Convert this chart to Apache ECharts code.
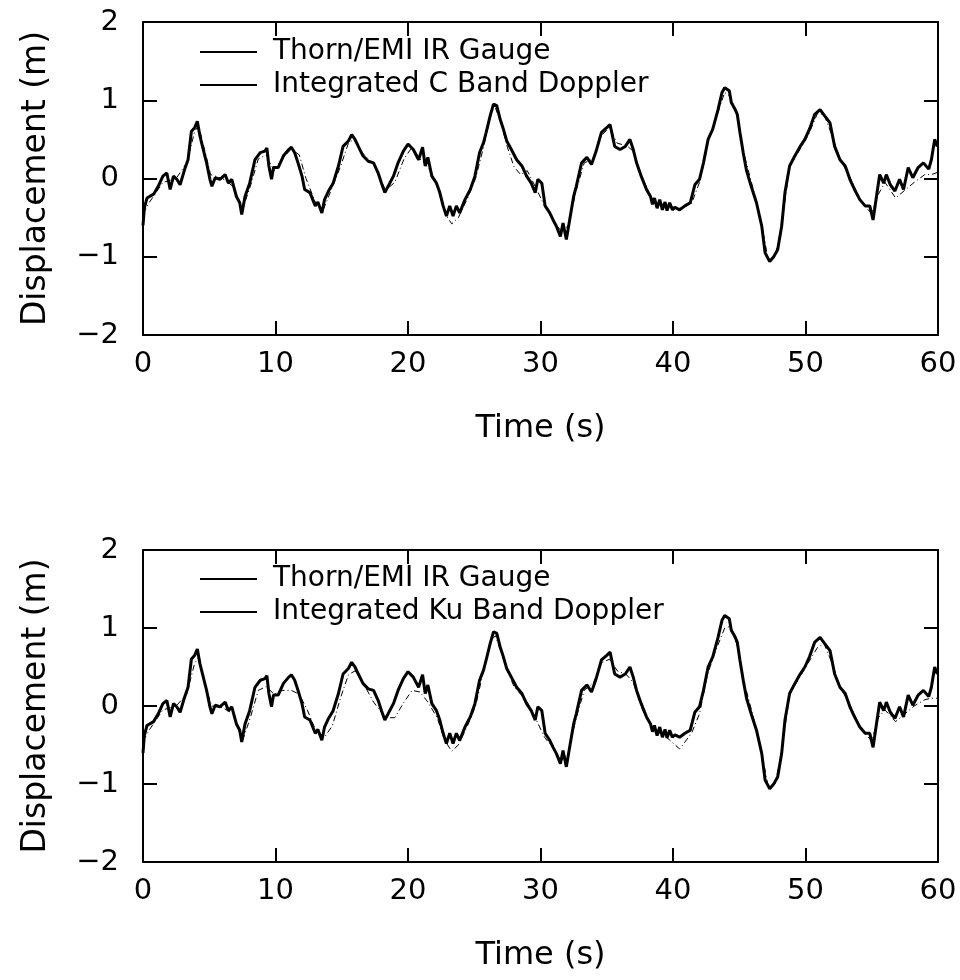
<!DOCTYPE html>
<html>
<head>
<meta charset="utf-8">
<script src="https://cdn.jsdelivr.net/npm/echarts@6/dist/echarts.min.js"></script>
<style>html,body{margin:0;padding:0;background:#fff;}#chart{width:960px;height:980px;}</style>
</head>
<body>
<div id="chart"></div>
<script>
// ---- data ----
var xTicks = [0, 10, 20, 30, 40, 50, 60];
var yTicks = [-2, -1, 0, 1, 2];

// Thorn/EMI IR Gauge (same record in both panels)
var gaugeT = [0,0.1,0.3,0.8,1.15,1.5,1.8,2.05,2.3,2.55,2.8,3.15,3.4,3.65,3.9,4.1,4.3,4.55,4.8,5.05,5.2,5.45,5.8,6.2,6.45,6.7,7.05,7.3,7.45,7.7,8.05,8.45,8.85,9.2,9.35,9.5,9.7,9.85,10.2,10.6,11.0,11.2,11.45,11.7,12.0,12.2,12.6,13.0,13.2,13.5,13.7,14.0,14.35,14.75,15.1,15.5,15.75,16.0,16.25,16.6,17.0,17.4,17.75,18.0,18.25,18.5,18.9,19.25,19.65,20.0,20.4,20.8,21.1,21.3,21.5,21.8,22.15,22.4,22.65,22.9,23.15,23.4,23.65,23.9,24.3,24.7,25.05,25.4,25.7,25.9,26.2,26.45,26.7,26.95,27.2,27.45,27.8,28.2,28.6,28.95,29.3,29.6,29.8,30.1,30.35,30.7,30.95,31.2,31.5,31.7,31.95,32.2,32.5,32.7,33.1,33.5,33.85,34.2,34.6,35.0,35.25,35.6,36.0,36.4,36.75,37.0,37.25,37.6,38.0,38.3,38.45,38.6,38.8,39.0,39.2,39.4,39.55,39.75,39.95,40.15,40.5,40.9,41.3,41.65,42.0,42.3,42.65,43.0,43.4,43.7,43.9,44.25,44.4,44.7,44.85,45.05,45.3,45.55,45.9,46.3,46.7,46.95,47.3,47.6,47.9,48.2,48.45,48.8,49.2,49.6,49.95,50.3,50.7,51.1,51.45,51.85,52.2,52.6,53.0,53.35,53.7,54.1,54.5,54.85,55.1,55.4,55.6,55.9,56.1,56.4,56.75,57.1,57.4,57.75,58.1,58.5,58.9,59.3,59.5,59.75,59.95];
var gaugeV = [-0.6,-0.38,-0.25,-0.2,-0.1,0.03,0.07,-0.14,0.03,-0.01,-0.08,0.12,0.24,0.6,0.65,0.73,0.54,0.37,0.2,-0.01,-0.1,0.01,-0.01,0.05,-0.06,-0.01,-0.23,-0.31,-0.46,-0.23,-0.06,0.24,0.33,0.35,0.39,0.16,-0.01,0.14,0.14,0.29,0.37,0.4,0.33,0.2,0.03,-0.14,-0.18,-0.35,-0.3,-0.44,-0.27,-0.16,-0.06,0.16,0.41,0.48,0.56,0.5,0.41,0.29,0.22,0.2,0.07,-0.06,-0.18,-0.1,0.03,0.2,0.35,0.44,0.37,0.24,0.4,0.16,0.27,0.03,-0.06,-0.18,-0.35,-0.48,-0.35,-0.48,-0.35,-0.44,-0.27,-0.14,0.03,0.33,0.46,0.59,0.8,0.95,0.93,0.76,0.63,0.48,0.37,0.24,0.16,0.03,-0.06,-0.18,-0.01,-0.06,-0.35,-0.44,-0.53,-0.61,-0.74,-0.57,-0.78,-0.53,-0.23,-0.1,0.2,0.27,0.18,0.35,0.59,0.65,0.69,0.41,0.37,0.41,0.5,0.37,0.2,0.03,-0.14,-0.23,-0.33,-0.25,-0.38,-0.27,-0.4,-0.3,-0.41,-0.31,-0.4,-0.37,-0.4,-0.35,-0.31,-0.08,-0.01,0.2,0.5,0.63,0.88,1.1,1.16,1.12,0.97,0.88,0.82,0.59,0.33,0.1,-0.1,-0.31,-0.61,-0.95,-1.06,-1.0,-0.91,-0.61,-0.18,0.16,0.29,0.41,0.5,0.63,0.82,0.88,0.8,0.71,0.41,0.24,0.16,-0.01,-0.14,-0.27,-0.35,-0.35,-0.53,-0.18,0.05,-0.06,0.05,-0.08,-0.16,-0.01,-0.14,0.14,0.01,0.14,0.2,0.12,0.24,0.5,0.41];

// Integrated C Band Doppler (top panel)
var dopCT = [0,0.5,1.5,2.5,3.3,3.9,4.2,4.6,5.1,6.0,6.8,7.5,8.1,8.7,9.3,9.9,10.5,11.2,11.8,12.3,13.0,13.6,14.2,14.9,15.5,15.9,16.6,17.4,18.3,19.0,19.7,20.3,20.9,21.5,22.2,22.8,23.3,23.8,24.5,25.1,25.7,26.3,26.6,27.0,27.5,28.0,28.5,29.0,29.6,30.3,31.0,31.6,32.1,32.7,33.3,34.0,34.6,35.2,35.8,36.5,37.0,37.7,38.5,39.5,40.5,41.4,42.0,42.6,43.2,43.9,44.3,44.8,45.3,46.0,46.7,47.2,47.7,48.2,48.8,49.5,50.2,50.9,51.4,52.0,52.6,53.4,54.2,55.0,55.5,56.0,56.8,57.5,58.2,59.0,59.5,60.0];
var dopCV = [-0.45,-0.3,-0.05,0.0,0.2,0.6,0.68,0.4,0.05,0.0,-0.1,-0.4,-0.1,0.25,0.3,0.1,0.25,0.38,0.3,0.0,-0.3,-0.4,-0.15,0.15,0.45,0.5,0.32,0.18,-0.15,-0.05,0.25,0.4,0.25,0.15,-0.1,-0.45,-0.58,-0.5,-0.25,0.0,0.4,0.85,0.9,0.72,0.4,0.15,0.05,0.1,-0.1,-0.35,-0.55,-0.68,-0.6,-0.15,0.2,0.25,0.55,0.65,0.45,0.42,0.35,0.0,-0.28,-0.35,-0.38,-0.32,-0.05,0.45,0.75,1.1,1.05,0.85,0.35,-0.1,-0.6,-1.05,-1.0,-0.6,0.15,0.35,0.55,0.83,0.82,0.55,0.25,0.0,-0.3,-0.45,-0.2,-0.05,-0.25,-0.15,-0.05,0.05,0.05,0.08];

// Integrated Ku Band Doppler (bottom panel)
var dopKuT = [0,0.5,1.5,2.5,3.3,3.9,4.2,4.7,5.2,6.0,6.8,7.5,8.1,8.7,9.3,9.9,10.5,11.2,11.8,12.4,13.0,13.7,14.3,14.9,15.5,16.0,16.6,17.4,18.3,19.0,19.7,20.3,20.9,21.5,22.2,22.8,23.3,23.8,24.5,25.1,25.7,26.3,26.6,27.0,27.5,28.0,28.5,29.0,29.6,30.3,31.0,31.6,32.1,32.7,33.3,34.0,34.6,35.2,35.8,36.5,37.0,37.7,38.5,39.5,40.5,41.4,42.0,42.6,43.2,43.9,44.3,44.8,45.3,46.0,46.7,47.2,47.7,48.2,48.8,49.5,50.2,50.9,51.4,52.0,52.6,53.4,54.2,55.0,55.5,56.0,56.8,57.5,58.2,59.0,59.5,60.0];
var dopKuV = [-0.45,-0.3,-0.05,0.0,0.15,0.55,0.62,0.25,0.0,-0.02,-0.1,-0.45,-0.15,0.2,0.25,0.15,0.2,0.2,0.15,-0.05,-0.3,-0.4,-0.25,0.1,0.4,0.45,0.3,0.05,-0.15,-0.15,0.05,0.2,0.18,0.05,-0.15,-0.45,-0.58,-0.5,-0.25,0.0,0.45,0.85,0.9,0.7,0.45,0.25,0.15,0.05,-0.15,-0.4,-0.55,-0.7,-0.6,-0.15,0.2,0.3,0.55,0.6,0.45,0.4,0.3,-0.05,-0.3,-0.4,-0.55,-0.35,-0.1,0.4,0.7,1.0,1.02,0.8,0.35,-0.1,-0.6,-1.05,-1.0,-0.6,0.15,0.35,0.55,0.75,0.8,0.55,0.25,0.0,-0.3,-0.45,-0.15,-0.05,-0.2,-0.1,0.0,0.08,0.1,0.1];

var gaugeName = 'Thorn/EMI IR Gauge';
var cName = 'Integrated C Band Doppler';
var kuName = 'Integrated Ku Band Doppler';

function pairs(t, v) { return t.map(function (x, i) { return [x, v[i]]; }); }

var FONT = 'DejaVu Sans';
var axisLineStyle = { color: '#000', width: 2 };

function xAx(gridIndex, pos, labels) {
  return {
    type: 'value', gridIndex: gridIndex, position: pos, min: 0, max: 60, interval: 10,
    name: labels ? 'Time (s)' : '', nameLocation: 'middle', nameGap: 78,
    nameTextStyle: { fontFamily: FONT, fontSize: 32, color: '#000' },
    axisLine: { show: true, onZero: false, lineStyle: axisLineStyle },
    axisTick: { show: true, inside: true, length: 14, lineStyle: { color: '#000', width: 2 } },
    axisLabel: { show: labels, margin: 15, fontFamily: FONT, fontSize: 29, color: '#000' },
    splitLine: { show: false }
  };
}
function yAx(gridIndex, pos, labels) {
  return {
    type: 'value', gridIndex: gridIndex, position: pos, min: -2, max: 2, interval: 1,
    name: labels ? 'Displacement (m)' : '', nameLocation: 'middle', nameGap: 90, nameRotate: 90,
    nameTextStyle: { fontFamily: FONT, fontSize: 33, color: '#000' },
    axisLine: { show: true, onZero: false, lineStyle: axisLineStyle },
    axisTick: { show: true, inside: true, length: 14, lineStyle: { color: '#000', width: 2 } },
    axisLabel: { show: labels, margin: 24, fontFamily: FONT, fontSize: 29, color: '#000',
      formatter: function (v) { return v < 0 ? '\u2212' + Math.abs(v) : String(v); } },
    splitLine: { show: false }
  };
}

function legend(top, names) {
  return {
    show: true, left: 195, top: top, orient: 'vertical', itemGap: 5, itemWidth: 57, itemHeight: 2,
    selectedMode: false,
    textStyle: { fontFamily: FONT, fontSize: 28, color: '#000', padding: [0, 0, 0, 11] },
    data: names.map(function (n) {
      return { name: n, icon: 'rect', itemStyle: { color: '#000' } };
    })
  };
}

var chart = echarts.init(document.getElementById('chart'), null, { renderer: 'canvas' });
chart.setOption({
  animation: false,
  backgroundColor: '#fff',
  grid: [
    { left: 143, top: 22, width: 795, height: 313 },
    { left: 143, top: 550, width: 795, height: 312 }
  ],
  legend: [legend(33, [gaugeName, cName]), legend(560, [gaugeName, kuName])],
  xAxis: [xAx(0, 'bottom', true), xAx(0, 'top', false), xAx(1, 'bottom', true), xAx(1, 'top', false)],
  yAxis: [yAx(0, 'left', true), yAx(0, 'right', false), yAx(1, 'left', true), yAx(1, 'right', false)],
  series: [
    { name: cName, type: 'line', xAxisIndex: 0, yAxisIndex: 0, symbol: 'none', data: pairs(dopCT, dopCV),
      lineStyle: { color: '#000', width: 1, type: [6, 3, 1, 3] } },
    { name: gaugeName, type: 'line', xAxisIndex: 0, yAxisIndex: 0, symbol: 'none', data: pairs(gaugeT, gaugeV),
      lineStyle: { color: '#000', width: 3 } },
    { name: kuName, type: 'line', xAxisIndex: 2, yAxisIndex: 2, symbol: 'none', data: pairs(dopKuT, dopKuV),
      lineStyle: { color: '#000', width: 1, type: [6, 3, 1, 3] } },
    { name: gaugeName, type: 'line', xAxisIndex: 2, yAxisIndex: 2, symbol: 'none', data: pairs(gaugeT, gaugeV),
      lineStyle: { color: '#000', width: 3 } }
  ]
});
</script>
</body>
</html>
